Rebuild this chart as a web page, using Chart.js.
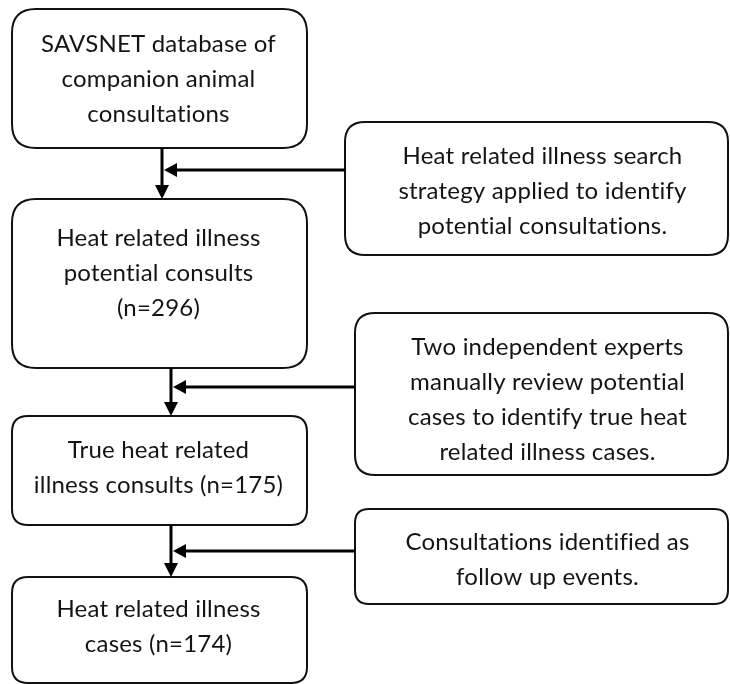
<!DOCTYPE html>
<html>
<head>
<meta charset="utf-8">
<script src="https://cdn.jsdelivr.net/npm/chart.js@4.4.1/dist/chart.umd.min.js"></script>
<style>
  html, body { margin: 0; padding: 0; background: #fff; }
  #flow { display: block; }
</style>
</head>
<body>
<canvas id="flow" width="730" height="684"></canvas>
<script>
// flow steps (main column) and the counts carried by each
const stepCounts = [null, 296, 175, 174];
const mainSteps = [
  ['SAVSNET database of', 'companion animal', 'consultations'],
  ['Heat related illness', 'potential consults', `(n=${stepCounts[1]})`],
  ['True heat related', `illness consults (n=${stepCounts[2]})`],
  ['Heat related illness', `cases (n=${stepCounts[3]})`]
];
// filtering steps on the right
const sideSteps = [
  ['Heat related illness search', 'strategy applied to identify', 'potential consultations.'],
  ['Two independent experts', 'manually review potential', 'cases to identify true heat', 'related illness cases.'],
  ['Consultations identified as', 'follow up events.']
];

// layout, in chart units (x 0..730, y 0..684 top-down)
const mainBox = [
  { x0: 12, x1: 307, y0: 9, y1: 148, r: 24, shift: 1 },
  { x0: 12, x1: 307, y0: 199, y1: 368, r: 24, shift: -10 },
  { x0: 12, x1: 307, y0: 416, y1: 525, r: 16, shift: -3 },
  { x0: 12, x1: 307, y0: 577, y1: 683, r: 16, shift: -3 }
];
const sideBox = [
  { x0: 345, x1: 728, y0: 122, y1: 255, r: 20, shift: 3 },
  { x0: 355, x1: 728, y0: 313, y1: 475, r: 20, shift: 6 },
  { x0: 355, x1: 728, y0: 509, y1: 604, r: 14, shift: 3 }
];
// connector x and the y of each side branch
const arrowX = [162, 171, 171];
const branchY = [170, 387, 551];
const LINE_H = 35;
const FONT = '24px Lato, "Open Sans", sans-serif';

function roundRect(ctx, x0, y0, x1, y1, r) {
  ctx.beginPath();
  ctx.moveTo(x0 + r, y0);
  ctx.lineTo(x1 - r, y0);
  ctx.quadraticCurveTo(x1, y0, x1, y0 + r);
  ctx.lineTo(x1, y1 - r);
  ctx.quadraticCurveTo(x1, y1, x1 - r, y1);
  ctx.lineTo(x0 + r, y1);
  ctx.quadraticCurveTo(x0, y1, x0, y1 - r);
  ctx.lineTo(x0, y0 + r);
  ctx.quadraticCurveTo(x0, y0, x0 + r, y0);
  ctx.closePath();
}

const flowPlugin = {
  id: 'flow',
  afterDraw(chart) {
    const { ctx, scales: { x, y } } = chart;
    const px = v => x.getPixelForValue(v);
    const py = v => y.getPixelForValue(v);

    function drawBox(b, lines, tx) {
      ctx.save();
      ctx.lineWidth = 2;
      ctx.strokeStyle = '#111';
      ctx.fillStyle = '#fff';
      roundRect(ctx, px(b.x0), py(b.y0), px(b.x1), py(b.y1), b.r);
      ctx.fill();
      ctx.stroke();
      ctx.fillStyle = '#141414';
      ctx.font = FONT;
      ctx.letterSpacing = '0.2px'; // also keeps Lato from joining "ti"
      ctx.textAlign = 'center';
      ctx.textBaseline = 'middle';
      const cy = (py(b.y0) + py(b.y1)) / 2 + b.shift;
      const top = cy - (lines.length - 1) * LINE_H / 2;
      lines.forEach((t, i) => ctx.fillText(t, tx, top + i * LINE_H));
      ctx.restore();
    }

    mainSteps.forEach((lines, i) => {
      const b = mainBox[i];
      drawBox(b, lines, (px(b.x0) + px(b.x1)) / 2 - 1);
    });
    sideSteps.forEach((lines, i) => {
      const b = sideBox[i];
      drawBox(b, lines, (px(b.x0) + px(b.x1)) / 2 + 6);
    });

    // connectors
    ctx.save();
    ctx.strokeStyle = '#000';
    ctx.fillStyle = '#000';
    ctx.lineWidth = 3;
    sideBox.forEach((s, i) => {
      const ax = px(arrowX[i]);
      const top = py(mainBox[i].y1);
      const bot = py(mainBox[i + 1].y0);
      const lineY = py(branchY[i]);
      ctx.beginPath();
      ctx.moveTo(ax, top);
      ctx.lineTo(ax, bot - 12);
      ctx.moveTo(px(s.x0), lineY);
      ctx.lineTo(ax + 14, lineY);
      ctx.stroke();
      // down arrow
      ctx.beginPath();
      ctx.moveTo(ax - 7, bot - 14);
      ctx.lineTo(ax + 7, bot - 14);
      ctx.lineTo(ax, bot);
      ctx.closePath();
      ctx.fill();
      // left arrow
      ctx.beginPath();
      ctx.moveTo(ax + 2, lineY);
      ctx.lineTo(ax + 15, lineY - 7);
      ctx.lineTo(ax + 15, lineY + 7);
      ctx.closePath();
      ctx.fill();
    });
    ctx.restore();
  }
};

new Chart(document.getElementById('flow'), {
  type: 'scatter',
  data: { datasets: [{ data: [], pointRadius: 0 }] },
  options: {
    responsive: false,
    animation: false,
    layout: { padding: 0 },
    plugins: { legend: { display: false }, tooltip: { enabled: false } },
    scales: {
      x: { type: 'linear', min: 0, max: 730, display: false },
      y: { type: 'linear', min: 0, max: 684, reverse: true, display: false }
    }
  },
  plugins: [flowPlugin]
});
</script>
</body>
</html>
